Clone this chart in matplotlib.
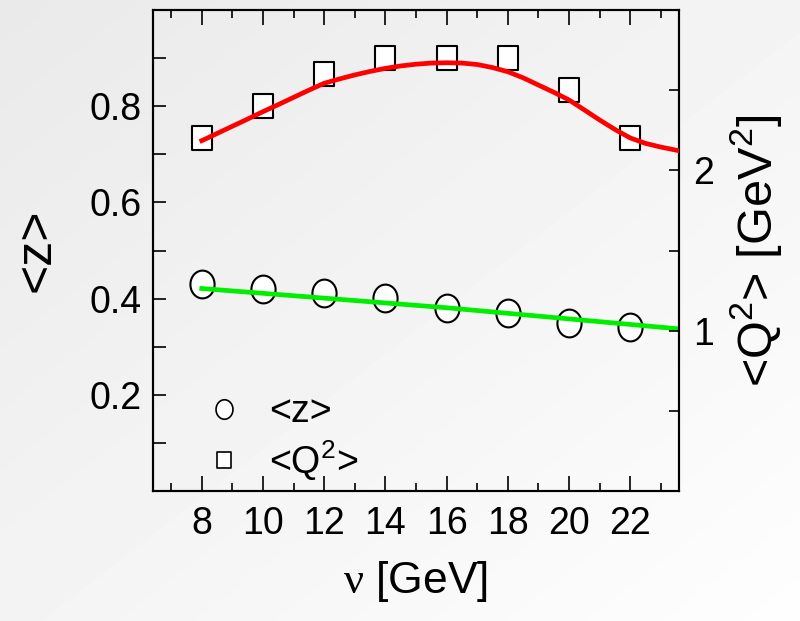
import numpy as np
import matplotlib
matplotlib.use("Agg")
import matplotlib.pyplot as plt
from matplotlib.path import Path
from matplotlib.lines import Line2D

plt.rcParams['font.family'] = ['Liberation Sans', 'DejaVu Sans']
plt.rcParams['mathtext.fontset'] = 'custom'
plt.rcParams['mathtext.rm'] = 'Liberation Sans'
plt.rcParams['mathtext.it'] = 'Liberation Sans:italic'
plt.rcParams['mathtext.sf'] = 'Liberation Serif'

# ---- data ----
nu = [8, 10, 12, 14, 16, 18, 20, 22]
z_mean = [0.430, 0.421, 0.411, 0.401, 0.380, 0.371, 0.350, 0.340]
q2_mean = [2.20, 2.40, 2.60, 2.70, 2.70, 2.70, 2.50, 2.20]

z_fit_x = [8, 16, 23.6]
z_fit_y = [0.421, 0.381, 0.337]

q2_fit_x = [8, 8.5, 9, 9.5, 10, 10.5, 11, 11.5, 12, 12.5, 13, 13.5, 14, 14.5, 15, 15.5,
            16, 16.5, 17, 17.5, 18, 18.5, 19, 19.5, 20, 20.5, 21, 21.5, 22, 22.5, 23, 23.6]
q2_fit_y = [2.185, 2.230, 2.275, 2.320, 2.366, 2.410, 2.455, 2.500, 2.543, 2.570, 2.595,
            2.617, 2.636, 2.651, 2.662, 2.669, 2.671, 2.669, 2.660, 2.641, 2.615, 2.577,
            2.532, 2.487, 2.439, 2.377, 2.314, 2.255, 2.202, 2.168, 2.145, 2.122]

x_ticks = [8, 10, 12, 14, 16, 18, 20, 22]
z_ticks = [0.2, 0.4, 0.6, 0.8]
q2_ticks = [1, 2]

# ---- marker shapes (slightly tall) ----
t = np.linspace(0, 2 * np.pi, 60)
ellipse = Path(np.column_stack([np.cos(t), 1.15 * np.sin(t)]), closed=True)
rect = Path([(-1, -1.15), (1, -1.15), (1, 1.15), (-1, 1.15), (-1, -1.15)], closed=True)

fig = plt.figure(figsize=(8, 6.21), dpi=100)

# background gradient
bg = fig.add_axes([0, 0, 1, 1], zorder=-10)
yy, xx = np.mgrid[0:1:200j, 0:1:200j]
grad = 0.915 + 0.08 * (0.5 * xx + 0.5 * yy)
bg.imshow(grad, cmap='gray', vmin=0, vmax=1, aspect='auto', extent=[0, 1, 1, 0])
bg.set_axis_off()

ax = fig.add_axes([0.191, 0.2093, 0.658, 0.7746])
ax.set_facecolor('none')
ax2 = ax.twinx()
ax2.set_facecolor('none')

ax.plot(nu, z_mean, ls='none', marker=ellipse, ms=20, mfc='white', mec='black', mew=1.5, zorder=3)
ax.plot(z_fit_x, z_fit_y, color='#00ee00', lw=3.4, zorder=4)

ax2.plot(nu, q2_mean, ls='none', marker=rect, ms=17, mfc='white', mec='black', mew=1.5, zorder=3)
ax2.plot(q2_fit_x, q2_fit_y, color='#ff0000', lw=3.4, zorder=4, solid_joinstyle='round')

ax.set_xlim(6.4, 23.6)
ax.set_ylim(0, 1.0)
ax2.set_ylim(0, 3.0)

ax.set_xticks(x_ticks)
ax.set_xticks(np.arange(7, 24, 2), minor=True)
ax.set_yticks(z_ticks)
ax.set_yticks([0.1, 0.3, 0.5, 0.7, 0.9], minor=True)
ax2.set_yticks(q2_ticks)
ax2.set_yticks([0.5, 1.5, 2.5], minor=True)

ax.set_xticklabels([str(v) for v in x_ticks])
ax.set_yticklabels([f"{v:.1f}" for v in z_ticks])
ax2.set_yticklabels([str(v) for v in q2_ticks])

ax.tick_params(axis='x', which='major', direction='in', length=11, width=1.2, top=True,
               labelsize=27, pad=11)
ax.tick_params(axis='x', which='minor', direction='in', length=6, width=1.2, top=True)
ax.tick_params(axis='y', which='both', direction='in', length=9, width=1.2, right=False,
               labelsize=27, pad=8)
ax2.tick_params(axis='y', which='both', direction='in', length=7, width=1.2,
                labelsize=27, pad=10)
for a in (ax, ax2):
    for s in a.spines.values():
        s.set_linewidth(1.5)

ax.set_xlabel(r'$\mathsf{\nu}$ [GeV]', fontsize=32, labelpad=12)
ax.set_ylabel('<z>', fontsize=36, labelpad=22)
ax2.set_ylabel(r'<Q$^{2}$> [GeV$^{2}$]', fontsize=35, labelpad=10, rotation=90)

handles = [Line2D([], [], ls='none', marker=ellipse, ms=14, mfc='white', mec='black', mew=1.2),
           Line2D([], [], ls='none', marker=rect, ms=12, mfc='white', mec='black', mew=1.2)]
ax.legend(handles, ['<z>', r'<Q$^{2}$>'], loc='center left', bbox_to_anchor=(0.014, 0.11),
          frameon=False, fontsize=27, handletextpad=0.2, labelspacing=0.22, borderpad=0.2)

fig.savefig('out.png', dpi=100)
